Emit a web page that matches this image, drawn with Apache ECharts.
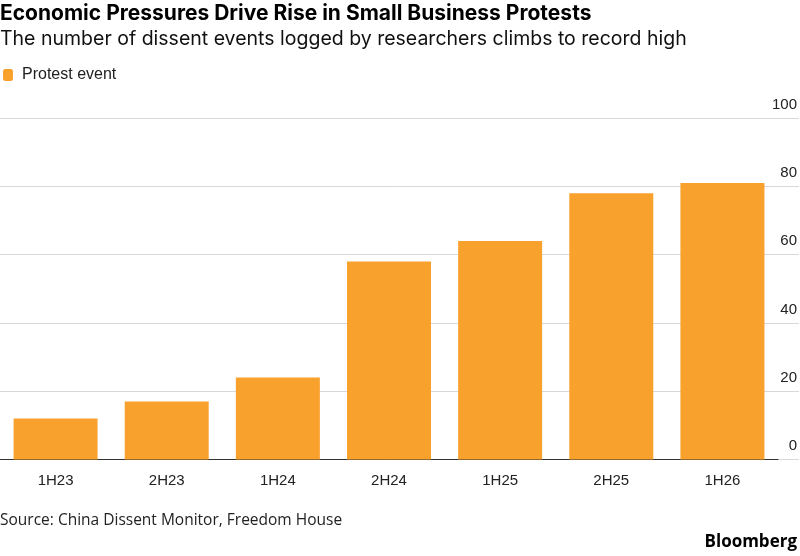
<!DOCTYPE html>
<html>
<head>
<meta charset="utf-8">
<script src="https://cdn.jsdelivr.net/npm/echarts@6/dist/echarts.min.js"></script>
<style>
  html, body { margin: 0; padding: 0; background: #fff; }
  #chart { width: 800px; height: 556px; }
</style>
</head>
<body>
<div id="chart"></div>
<script>
// half-year periods
const periods = ['1H23', '2H23', '1H24', '2H24', '1H25', '2H25', '1H26']
// protest events logged
const protestEvents = [12, 17, 24, 58, 64, 78, 81]
const yTicks = [0, 20, 40, 60, 80, 100]

const FONT = '"Liberation Sans", Arial, sans-serif'
const HEAD_FONT = 'Inter, "Liberation Sans", sans-serif'
const NOTE_FONT = '"Open Sans", "Liberation Sans", sans-serif'
const ORANGE = '#f9a12d'

const chart = echarts.init(document.getElementById('chart'))

chart.setOption({
  animation: false,
  textStyle: { fontFamily: FONT },
  title: [
    {
      text: 'Economic Pressures Drive Rise in Small Business Protests',
      left: 0, top: 3, padding: 0,
      textStyle: { fontSize: 21, fontWeight: 'bold', color: '#000', fontFamily: HEAD_FONT }
    },
    {
      text: 'The number of dissent events logged by researchers climbs to record high',
      left: 0, top: 29, padding: 0,
      textStyle: { fontSize: 19.5, fontWeight: 'normal', color: '#111', fontFamily: HEAD_FONT }
    },
    {
      text: 'Source: China Dissent Monitor, Freedom House',
      left: 0, top: 513, padding: 0,
      textStyle: { fontSize: 15.5, fontWeight: 'normal', color: '#222', fontFamily: NOTE_FONT }
    },
    {
      text: 'Bloomberg',
      right: 3, top: 534, padding: 0,
      textStyle: { fontSize: 17, fontWeight: 'bold', color: '#000', fontFamily: NOTE_FONT }
    }
  ],
  legend: {
    left: 3, top: 67, padding: 0,
    icon: 'roundRect',
    itemWidth: 10, itemHeight: 12,
    itemGap: 10,
    textStyle: { fontSize: 16, color: '#222', fontFamily: FONT, padding: [0, 0, 0, 4] },
    data: ['Protest event']
  },
  // grid 0: full-width gridlines + labels, grid 1: bars
  grid: [
    { left: 0, right: 0, top: 118, bottom: 96.5, containLabel: false },
    { left: -6, right: 22, top: 118, bottom: 96.5, containLabel: false }
  ],
  xAxis: [
    { gridIndex: 0, type: 'category', data: periods, show: false },
    {
      gridIndex: 1,
      type: 'category',
      data: periods,
      axisLine: { lineStyle: { color: '#333', width: 1 } },
      axisTick: { alignWithLabel: true, length: 6, lineStyle: { color: '#333' } },
      axisLabel: { fontSize: 15, color: '#222', margin: 14, fontFamily: FONT }
    }
  ],
  yAxis: [
    {
      gridIndex: 0,
      type: 'value',
      position: 'right',
      min: 0, max: 100, interval: 20,
      axisLine: { show: false },
      axisTick: { show: false },
      splitLine: { lineStyle: { color: '#d8d8d8', width: 1 } },
      axisLabel: {
        inside: true,
        margin: 2,
        fontSize: 15,
        color: '#222',
        fontFamily: FONT,
        verticalAlign: 'bottom',
        padding: [0, 0, 6, 0],
        formatter: v => yTicks.includes(v) ? String(v) : ''
      }
    },
    {
      gridIndex: 1,
      type: 'value',
      min: 0, max: 100, interval: 20,
      show: false,
      splitLine: { show: false }
    }
  ],
  series: [
    {
      name: 'Protest event',
      type: 'bar',
      xAxisIndex: 1,
      yAxisIndex: 1,
      data: protestEvents,
      barWidth: 84,
      itemStyle: { color: ORANGE }
    }
  ]
})
</script>
</body>
</html>
